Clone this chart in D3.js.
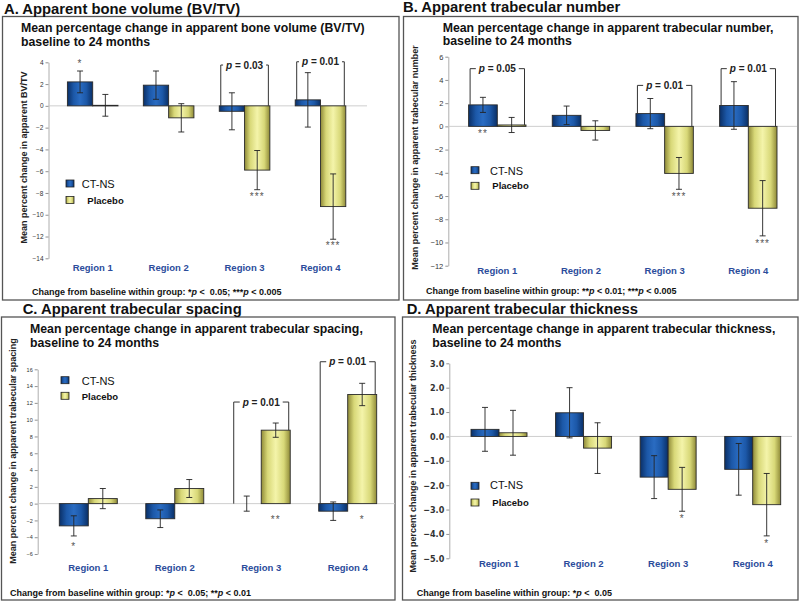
<!DOCTYPE html>
<html><head><meta charset="utf-8">
<script src="https://cdn.jsdelivr.net/npm/d3@7"></script>
<style>
html,body{margin:0;padding:0;background:#fff;}
svg{display:block;font-family:"Liberation Sans",Arial,sans-serif;}
text{white-space:pre;}
</style></head>
<body>
<svg id="chart" width="800" height="602"></svg>
<script>
// ---------- data ----------
const regions = ["Region 1", "Region 2", "Region 3", "Region 4"];
const groups = ["CT-NS", "Placebo"];

// A. Apparent bone volume (BV/TV)
const bvCtns = [2.2, 1.9, -0.5, 0.55];
const bvCtnsErr = [1.0, 1.3, 1.7, 2.5];
const bvPlacebo = [0.05, -1.1, -5.9, -9.25];
const bvPlaceboErr = [1.0, 1.3, 1.8, 3.0];
const bvTicks = [4, 2, 0, -2, -4, -6, -8, -10, -12, -14];
const bvCtnsSig = ["*", "", "", ""];
const bvPlaceboSig = ["", "", "***", "***"];
const bvPvalues = ["", "", "0.03", "0.01"];
const bvBracketTop = [null, null, 3.75, 4.05];

// B. Apparent trabecular number
const tnCtns = [1.85, 0.95, 1.1, 1.8];
const tnCtnsErr = [0.65, 0.8, 1.3, 2.05];
const tnPlacebo = [0.12, -0.35, -4.05, -7.05];
const tnPlaceboErr = [0.65, 0.83, 1.37, 2.38];
const tnTicks = [6, 4, 2, 0, -2, -4, -6, -8, -10, -12];
const tnCtnsSig = ["**", "", "", ""];
const tnPlaceboSig = ["", "", "***", "***"];
const tnPvalues = ["0.05", "", "0.01", "0.01"];
const tnBracketTop = [4.97, null, 3.53, 4.97];

// C. Apparent trabecular spacing
const tsCtns = [-2.65, -1.8, 0, -0.9];
const tsCtnsErr = [1.2, 1.05, 0.9, 1.1];
const tsPlacebo = [0.6, 1.8, 8.75, 13.0];
const tsPlaceboErr = [1.2, 1.07, 0.85, 1.33];
const tsTicks = [16, 14, 12, 10, 8, 6, 4, 2, 0, -2, -4, -6];
const tsCtnsSig = ["*", "", "", ""];
const tsPlaceboSig = ["", "", "**", "*"];
const tsPvalues = ["", "", "0.01", "0.01"];
const tsBracketTop = [null, null, 12.1, 16.9];

// D. Apparent trabecular thickness
const ttCtns = [0.29, 0.97, -1.67, -1.35];
const ttCtnsErr = [0.9, 1.03, 0.88, 1.06];
const ttPlacebo = [0.15, -0.48, -2.17, -2.8];
const ttPlaceboErr = [0.92, 1.04, 0.9, 1.28];
const ttTicks = [3, 2, 1, 0, -1, -2, -3, -4, -5];
const ttCtnsSig = ["", "", "", ""];
const ttPlaceboSig = ["", "", "*", "*"];
const ttPvalues = ["", "", "", ""];
const ttBracketTop = [null, null, null, null];

// ---------- panels (layout) ----------
const panels = [
  {
    title: "A. Apparent bone volume (BV/TV)", titleX: 4, titleY: 13.5,
    sub: ["Mean percentage change in apparent bone volume (BV/TV)", "baseline to 24 months"], subX: 21, subY: [32.3, 45.7],
    box: [2.5, 16.5, 396.5, 283.5],
    ylabel: "Mean percent change in apparent BV/TV", ylabelX: 24, ylabelY: 157.5,
    ct: bvCtns, ctErr: bvCtnsErr, pl: bvPlacebo, plErr: bvPlaceboErr, ticks: bvTicks,
    ctSig: bvCtnsSig, plSig: bvPlaceboSig, pv: bvPvalues, bTop: bvBracketTop,
    yRange: [258.3, 62.3], axisX: 48.5, zeroEnd: 367, xRange: [92.7, 320.5], barW: 25.3,
    tickFont: 6.5, tickFam: null, fmt: d3.format("d"),
    legX: 66, legSq: [180, 196.5], legText: [[81.7, 187.5], [87.3, 203.5]],
    regY: 271, foot: ["Change from baseline within group: *", "p", " <  0.05; ***", "p", " < 0.005"], footX: 32, footY: 295,
    posSig: "above", zeroSigOff: 10, negSigOff: 10
  },
  {
    title: "B. Apparent trabecular number", titleX: 403, titleY: 12,
    sub: ["Mean percentage change in apparent trabecular number,", "baseline to 24 months"], subX: 442.7, subY: [32.3, 45.3],
    box: [403.5, 16.5, 394.5, 283.5],
    ylabel: "Mean percent change in apparent trabecular number", ylabelX: 415, ylabelY: 157.5,
    ct: tnCtns, ctErr: tnCtnsErr, pl: tnPlacebo, plErr: tnPlaceboErr, ticks: tnTicks,
    ctSig: tnCtnsSig, plSig: tnPlaceboSig, pv: tnPvalues, bTop: tnBracketTop,
    yRange: [265.7, 56.7], axisX: 448.3, zeroEnd: 797, xRange: [497.3, 748.3], barW: 28.7,
    tickFont: 7.5, tickFam: null, fmt: d3.format("d"),
    legX: 471, legSq: [166.7, 182.3], legText: [[490, 174.8], [492.3, 189.3]],
    regY: 274, foot: ["Change from baseline within group: **", "p", " < 0.01; ***", "p", " < 0.005"], footX: 426, footY: 293.5,
    posSig: "belowZero", zeroSigOff: 11, negSigOff: 11
  },
  {
    title: "C. Apparent trabecular spacing", titleX: 22.7, titleY: 313.5,
    sub: ["Mean percentage change in apparent trabecular spacing,", "baseline to 24 months"], subX: 30, subY: [333.3, 346.7],
    box: [1.5, 317, 393.5, 283],
    ylabel: "Mean percent change in apparent trabecular spacing", ylabelX: 13.3, ylabelY: 451,
    ct: tsCtns, ctErr: tsCtnsErr, pl: tsPlacebo, plErr: tsPlaceboErr, ticks: tsTicks,
    ctSig: tsCtnsSig, plSig: tsPlaceboSig, pv: tsPvalues, bTop: tsBracketTop,
    yRange: [554, 369.3], axisX: 37.7, zeroEnd: 395, xRange: [88.3, 347.7], barW: 29,
    tickFont: 5.5, tickFam: null, fmt: d3.format("d"),
    legX: 61, legSq: [376.7, 392.3], legText: [[81.7, 384.7], [81.7, 399.5]],
    regY: 570.7, foot: ["Change from baseline within group: *", "p", " <  0.05; **", "p", " < 0.01"], footX: 10, footY: 595.7,
    posSig: "belowZero", zeroSigOff: 19, negSigOff: 14
  },
  {
    title: "D. Apparent trabecular thickness", titleX: 406.7, titleY: 314,
    sub: ["Mean percentage change in apparent trabecular thickness,", "baseline to 24 months"], subX: 432.3, subY: [333.3, 346.7],
    box: [402.5, 317, 395.5, 283],
    ylabel: "Mean percent change in apparent trabecular thickness", ylabelX: 413.3, ylabelY: 456,
    ct: ttCtns, ctErr: ttCtnsErr, pl: ttPlacebo, plErr: ttPlaceboErr, ticks: ttTicks,
    ctSig: ttCtnsSig, plSig: ttPlaceboSig, pv: ttPvalues, bTop: ttBracketTop,
    yRange: [558.3, 363.3], axisX: 449.3, zeroEnd: 792, xRange: [499, 752.7], barW: 28,
    tickFont: 9, tickFam: "'Liberation Sans Narrow','DejaVu Sans Condensed',sans-serif", fmt: d3.format(".1f"),
    legX: 471, legSq: [482.3, 499], legText: [[490, 489], [492.3, 505.5]],
    regY: 567.3, foot: ["Change from baseline within group: *", "p", " <  0.05"], footX: 416.7, footY: 595.7,
    posSig: "above", zeroSigOff: 10, negSigOff: 11
  }
];

// ---------- drawing ----------
const svg = d3.select("#chart");
const defs = svg.append("defs");
function grad(id, stops) {
  const g = defs.append("linearGradient").attr("id", id).attr("x1", "0%").attr("x2", "100%").attr("y1", "0%").attr("y2", "0%");
  stops.forEach(s => g.append("stop").attr("offset", s[0]).attr("stop-color", s[1]));
}
grad("gBlue", [["0%", "#0a2f66"], ["25%", "#1c58a8"], ["50%", "#2a6cc2"], ["75%", "#1c58a8"], ["100%", "#0a2f66"]]);
grad("gYel", [["0%", "#8f8a38"], ["22%", "#d8d878"], ["50%", "#f4f4aa"], ["78%", "#d8d878"], ["100%", "#8f8a38"]]);
const fills = ["url(#gBlue)", "url(#gYel)"];
const regColor = "#2b4c9b";

panels.forEach(p => {
  const g = svg.append("g");
  g.append("rect").attr("x", p.box[0]).attr("y", p.box[1]).attr("width", p.box[2]).attr("height", p.box[3])
    .attr("fill", "none").attr("stroke", "#555").attr("stroke-width", 1.3);
  g.append("text").attr("x", p.titleX).attr("y", p.titleY).text(p.title)
    .attr("font-size", 14.8).attr("font-weight", "bold").attr("fill", "#111");
  p.sub.forEach((s, i) => g.append("text").attr("x", p.subX).attr("y", p.subY[i]).text(s)
    .attr("font-size", 12.3).attr("font-weight", "bold").attr("fill", "#111"));

  const y = d3.scaleLinear().domain([d3.min(p.ticks), d3.max(p.ticks)]).range(p.yRange);
  const x = d3.scalePoint().domain(regions).range(p.xRange);
  const xi = d3.scaleBand().domain(groups).range([-p.barW, p.barW]);

  const ax = g.append("g").attr("transform", `translate(${p.axisX},0)`)
    .call(d3.axisLeft(y).tickValues(p.ticks).tickSize(3).tickSizeOuter(0).tickPadding(2).tickFormat(p.fmt));
  ax.select(".domain").attr("stroke", "#999").attr("stroke-width", 0.8);
  ax.selectAll(".tick line").attr("stroke", "#777").attr("stroke-width", 0.8);
  ax.selectAll(".tick text").attr("font-size", p.tickFont).attr("fill", "#333")
    .attr("font-family", p.tickFam || "'Liberation Sans',Arial,sans-serif")
    .attr("font-weight", p.tickFam ? "bold" : "normal");

  g.append("line").attr("x1", p.axisX).attr("x2", p.zeroEnd).attr("y1", y(0)).attr("y2", y(0))
    .attr("stroke", "#c8c8c8").attr("stroke-width", 0.9);

  g.append("text").attr("transform", `translate(${p.ylabelX},${p.ylabelY}) rotate(-90)`)
    .attr("text-anchor", "middle").attr("dominant-baseline", "central")
    .attr("font-size", 9).attr("font-weight", "bold").attr("fill", "#222").text(p.ylabel);

  const series = [
    {name: groups[0], v: p.ct, e: p.ctErr, sig: p.ctSig},
    {name: groups[1], v: p.pl, e: p.plErr, sig: p.plSig}
  ];
  series.forEach((s, si) => {
    regions.forEach((r, i) => {
      const v = s.v[i], e = s.e[i];
      const bx = x(r) + xi(s.name);
      const cx = bx + xi.bandwidth() / 2;
      if (Math.abs(v) > 1e-9) {
        g.append("rect").attr("x", bx).attr("width", xi.bandwidth())
          .attr("y", y(Math.max(0, v))).attr("height", Math.max(0.6, Math.abs(y(v) - y(0))))
          .attr("fill", fills[si]).attr("stroke", "#2a2a2a").attr("stroke-width", 0.9);
      }
      const eb = g.append("g").attr("stroke", "#222").attr("stroke-width", 0.9);
      eb.append("line").attr("x1", cx).attr("x2", cx).attr("y1", y(v + e)).attr("y2", y(v - e));
      [v + e, v - e].forEach(t => eb.append("line").attr("x1", cx - 3).attr("x2", cx + 3).attr("y1", y(t)).attr("y2", y(t)));
      if (s.sig[i]) {
        let ty;
        if (v < 0) ty = y(v - e) + p.negSigOff;
        else if (p.posSig === "above") ty = y(v + e) - 4;
        else ty = y(0) + p.zeroSigOff;
        g.append("text").attr("x", cx).attr("y", ty).attr("text-anchor", "middle")
          .attr("font-size", 10).attr("letter-spacing", 1).attr("fill", "#555").text(s.sig[i]);
      }
    });
  });

  regions.forEach((r, i) => {
    if (!p.pv[i]) return;
    const xl = x(r) - p.barW + 1.5, xr = x(r) + p.barW - 1.5, yt = y(p.bTop[i]);
    const t = g.append("text").attr("x", x(r)).attr("y", yt + 3.5).attr("text-anchor", "middle")
      .attr("font-size", 10).attr("font-weight", "bold").attr("fill", "#222");
    t.append("tspan").attr("font-style", "italic").text("p");
    t.append("tspan").text(" = " + p.pv[i]);
    const tw = t.node().getComputedTextLength();
    const br = g.append("g").attr("stroke", "#333").attr("stroke-width", 1).attr("fill", "none");
    br.append("path").attr("d", `M${x(r) - tw / 2 - 3},${yt}H${xl}V${y(Math.max(0, p.ct[i]))}`);
    br.append("path").attr("d", `M${x(r) + tw / 2 + 3},${yt}H${xr}V${y(Math.max(0, p.pl[i]))}`);
  });

  regions.forEach(r => g.append("text").attr("x", x(r)).attr("y", p.regY).attr("text-anchor", "middle")
    .attr("font-size", 9.5).attr("font-weight", "bold").attr("fill", regColor).text(r));

  groups.forEach((gn, i) => {
    g.append("rect").attr("x", p.legX).attr("y", p.legSq[i]).attr("width", 8).attr("height", 7)
      .attr("fill", fills[i]).attr("stroke", "#222").attr("stroke-width", 0.8);
    g.append("text").attr("x", p.legText[i][0]).attr("y", p.legText[i][1])
      .attr("font-size", i === 0 ? 11 : 9.5).attr("font-weight", i === 0 ? "normal" : "bold")
      .attr("fill", "#111").text(gn);
  });

  const f = g.append("text").attr("x", p.footX).attr("y", p.footY).attr("font-size", 9)
    .attr("font-weight", "bold").attr("fill", "#111");
  p.foot.forEach(s => f.append("tspan").attr("font-style", s === "p" ? "italic" : "normal").text(s));
});
</script>
</body></html>
